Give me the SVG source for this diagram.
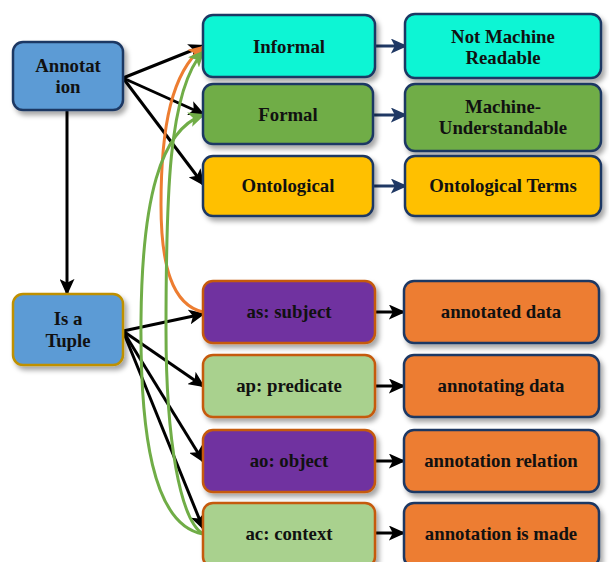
<svg xmlns="http://www.w3.org/2000/svg" width="609" height="562" viewBox="0 0 609 562">
  <style>
    .lbl { font-family: "Liberation Serif", "Times New Roman", serif; font-weight: bold; font-size: 18.8px; fill: #111; text-anchor: middle; }
    .box { stroke-width: 2.5; filter: url(#shadow); }
    .navy { stroke: #1F3864; }
    .rust { stroke: #C55A11; }
    .gold { stroke: #BF9000; }
    .blk { fill: none; stroke: #000; stroke-width: 3; marker-end: url(#ah); }
    .nv { fill: none; stroke: #1F3864; stroke-width: 3; marker-end: url(#ahn); }
    .org { fill: none; stroke: #ED7D31; stroke-width: 3; marker-end: url(#aho); }
    .grn { fill: none; stroke: #70AD47; stroke-width: 3; marker-end: url(#ahg); }
  </style>
  <defs>
    <filter id="shadow" x="-20%" y="-20%" width="140%" height="150%">
      <feDropShadow dx="3" dy="4" stdDeviation="2.5" flood-color="#000" flood-opacity="0.35"/>
    </filter>
    <marker id="ah" markerWidth="5.5" markerHeight="5" refX="4.7" refY="2.5" orient="auto" markerUnits="strokeWidth">
      <path d="M0,0 L5.5,2.5 L0,5 L1.3,2.5 Z" fill="#000"/>
    </marker>
    <marker id="ahn" markerWidth="5.5" markerHeight="5" refX="4.7" refY="2.5" orient="auto" markerUnits="strokeWidth">
      <path d="M0,0 L5.5,2.5 L0,5 L1.3,2.5 Z" fill="#1F3864"/>
    </marker>
    <marker id="aho" markerWidth="5.5" markerHeight="5" refX="4.7" refY="2.5" orient="auto" markerUnits="strokeWidth">
      <path d="M0,0 L5.5,2.5 L0,5 L1.3,2.5 Z" fill="#ED7D31"/>
    </marker>
    <marker id="ahg" markerWidth="5.5" markerHeight="5" refX="4.7" refY="2.5" orient="auto" markerUnits="strokeWidth">
      <path d="M0,0 L5.5,2.5 L0,5 L1.3,2.5 Z" fill="#70AD47"/>
    </marker>
  </defs>

  <rect width="609" height="562" fill="#fff"/>

  <!-- connectors -->
  <g id="connectors">
    <!-- Annotation to its kinds -->
    <path class="blk" d="M123,78 L203,46"/>
    <path class="blk" d="M123,78 L203,114"/>
    <path class="blk" d="M123,78 L203,184"/>
    <path class="blk" d="M67,110 L67,293"/>
    <!-- kinds to meanings -->
    <path class="nv" d="M375,46 L405,46"/>
    <path class="nv" d="M374,115 L405,115"/>
    <path class="nv" d="M374,186 L405,186"/>
    <!-- Tuple to its parts -->
    <path class="blk" d="M123,331 L203,314"/>
    <path class="blk" d="M123,331 L203,386"/>
    <path class="blk" d="M123,331 L203,461"/>
    <path class="blk" d="M123,331 L203,528"/>
    <!-- parts to meanings -->
    <path class="blk" d="M375,312 L403,312"/>
    <path class="blk" d="M375,386 L403,386"/>
    <path class="blk" d="M375,461 L403,461"/>
    <path class="blk" d="M375,533 L403,533"/>
    <!-- cross links -->
    <path class="org" d="M203,312 C172,305 161,265 161,205 C161,125 172,72 203,47"/>
    <path class="grn" d="M203,534 C152,525 140,430 141,320 C142,200 160,130 203,115"/>
    <path class="grn" d="M203,534 C180,520 166,440 166,330 C166,200 168,90 203,52"/>
  </g>

  <!-- nodes -->
  <g id="annotation">
    <rect class="box navy" x="13" y="42" width="110" height="68" rx="10" fill="#5B9BD5"/>
    <text class="lbl" x="68" y="72">Annotat</text>
    <text class="lbl" x="68" y="93">ion</text>
  </g>
  <g id="informal">
    <rect class="box navy" x="203" y="15" width="172" height="62" rx="10" fill="#0EF5D4"/>
    <text class="lbl" x="289" y="53">Informal</text>
  </g>
  <g id="not-machine-readable">
    <rect class="box navy" x="405" y="14" width="196" height="64" rx="10" fill="#0EF5D4"/>
    <text class="lbl" x="503" y="43">Not Machine</text>
    <text class="lbl" x="503" y="64">Readable</text>
  </g>
  <g id="formal">
    <rect class="box navy" x="203" y="84" width="170" height="60" rx="10" fill="#70AD47"/>
    <text class="lbl" x="288" y="121">Formal</text>
  </g>
  <g id="machine-understandable">
    <rect class="box navy" x="405" y="84" width="196" height="67" rx="10" fill="#70AD47"/>
    <text class="lbl" x="503" y="113">Machine-</text>
    <text class="lbl" x="503" y="134">Understandable</text>
  </g>
  <g id="ontological">
    <rect class="box navy" x="203" y="156" width="170" height="60" rx="10" fill="#FFC000"/>
    <text class="lbl" x="288" y="192">Ontological</text>
  </g>
  <g id="ontological-terms">
    <rect class="box navy" x="405" y="156" width="196" height="60" rx="10" fill="#FFC000"/>
    <text class="lbl" x="503" y="192">Ontological Terms</text>
  </g>

  <g id="tuple">
    <rect class="box gold" x="13" y="294" width="110" height="71" rx="10" fill="#5B9BD5"/>
    <text class="lbl" x="68" y="325">Is a</text>
    <text class="lbl" x="68" y="347">Tuple</text>
  </g>
  <g id="subject">
    <rect class="box rust" x="203" y="281" width="172" height="62" rx="10" fill="#7030A0"/>
    <text class="lbl" x="289" y="318">as: subject</text>
  </g>
  <g id="annotated-data">
    <rect class="box navy" x="404" y="281" width="195" height="62" rx="10" fill="#ED7D31"/>
    <text class="lbl" x="501" y="318">annotated data</text>
  </g>
  <g id="predicate">
    <rect class="box rust" x="203" y="355" width="172" height="62" rx="10" fill="#A9D18E"/>
    <text class="lbl" x="289" y="392">ap: predicate</text>
  </g>
  <g id="annotating-data">
    <rect class="box navy" x="404" y="355" width="195" height="62" rx="10" fill="#ED7D31"/>
    <text class="lbl" x="501" y="392">annotating data</text>
  </g>
  <g id="object">
    <rect class="box rust" x="203" y="430" width="172" height="62" rx="10" fill="#7030A0"/>
    <text class="lbl" x="289" y="467">ao: object</text>
  </g>
  <g id="annotation-relation">
    <rect class="box navy" x="404" y="430" width="195" height="62" rx="10" fill="#ED7D31"/>
    <text class="lbl" x="501" y="467">annotation relation</text>
  </g>
  <g id="context">
    <rect class="box rust" x="203" y="503" width="172" height="64" rx="10" fill="#A9D18E"/>
    <text class="lbl" x="289" y="540">ac: context</text>
  </g>
  <g id="annotation-made">
    <rect class="box navy" x="404" y="503" width="195" height="64" rx="10" fill="#ED7D31"/>
    <text class="lbl" x="501" y="540">annotation is made</text>
  </g>
</svg>
